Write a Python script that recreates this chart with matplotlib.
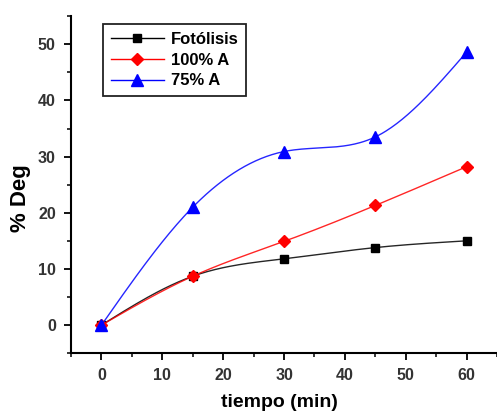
import numpy as np
import matplotlib
matplotlib.use("Agg")
import matplotlib.pyplot as plt
from matplotlib.ticker import MultipleLocator

plt.rcParams['font.family'] = ['Liberation Sans', 'DejaVu Sans']

tiempo = [0, 15, 30, 45, 60]
fotolisis = [0.0, 8.7, 11.8, 13.8, 15.0]
a100 = [0.0, 8.7, 14.9, 21.3, 28.2]
a75 = [0.0, 21.0, 30.9, 33.5, 48.6]
labels = ["Fotólisis", "100% A", "75% A"]


def natural_spline(x, y, n=200):
    # natural cubic spline through the points, only used to draw the smooth line
    x = np.asarray(x, float)
    y = np.asarray(y, float)
    k = len(x)
    h = np.diff(x)
    A = np.zeros((k, k))
    b = np.zeros(k)
    A[0, 0] = A[-1, -1] = 1
    for i in range(1, k - 1):
        A[i, i - 1] = h[i - 1]
        A[i, i] = 2 * (h[i - 1] + h[i])
        A[i, i + 1] = h[i]
        b[i] = 6 * ((y[i + 1] - y[i]) / h[i] - (y[i] - y[i - 1]) / h[i - 1])
    M = np.linalg.solve(A, b)
    xs = np.linspace(x[0], x[-1], n)
    idx = np.clip(np.searchsorted(x, xs) - 1, 0, k - 2)
    x0, x1 = x[idx], x[idx + 1]
    hh = x1 - x0
    ys = (M[idx] * (x1 - xs) ** 3 / (6 * hh) + M[idx + 1] * (xs - x0) ** 3 / (6 * hh)
          + (y[idx] / hh - M[idx] * hh / 6) * (x1 - xs)
          + (y[idx + 1] / hh - M[idx + 1] * hh / 6) * (xs - x0))
    return xs, ys


fig = plt.figure(figsize=(4.97, 4.15), dpi=100)
ax = fig.add_axes([0.143, 0.149, 0.857, 0.812])

series = [
    (fotolisis, "black", "s", 6),
    (a100, "red", "D", 6),
    (a75, "blue", "^", 8),
]
for (vals, col, mk, ms), lab in zip(series, labels):
    xs, ys = natural_spline(tiempo, vals)
    ax.plot(xs, ys, color=col, lw=1.0, alpha=0.85)
    ax.plot(tiempo, vals, linestyle="none", marker=mk, color=col, ms=ms)
    ax.plot([], [], color=col, marker=mk, ms=ms, lw=1.0, label=lab)

ax.set_xlim(-5, 65)
ax.set_ylim(-5, 55)
ax.xaxis.set_major_locator(MultipleLocator(10))
ax.xaxis.set_minor_locator(MultipleLocator(5))
ax.yaxis.set_major_locator(MultipleLocator(10))
ax.yaxis.set_minor_locator(MultipleLocator(5))
ax.spines['top'].set_visible(False)
ax.spines['right'].set_visible(False)
ax.spines['left'].set_linewidth(1.5)
ax.spines['bottom'].set_linewidth(1.5)
ax.tick_params(which='major', direction='out', length=5, width=1.3, labelsize=11.5,
               labelcolor="#333333", pad=6)
ax.tick_params(which='minor', direction='out', length=3, width=1.1)
for t in ax.get_xticklabels() + ax.get_yticklabels():
    t.set_fontweight("bold")

ax.set_xlabel("tiempo (min)", fontsize=14, fontweight="bold")
ax.xaxis.set_label_coords(0.49, -0.12)
ax.set_ylabel("% Deg", fontsize=16, fontweight="bold")
ax.yaxis.set_label_coords(-0.095, 0.46)

leg = ax.legend(loc="upper left", bbox_to_anchor=(0.075, 0.976), borderaxespad=0,
                fancybox=False, edgecolor="#222222", framealpha=1, handlelength=3.2,
                prop={"weight": "bold", "size": 12}, borderpad=0.45,
                labelspacing=0.35, handletextpad=0.4)
leg.get_frame().set_linewidth(1.3)

fig.savefig("out.png", dpi=100)
